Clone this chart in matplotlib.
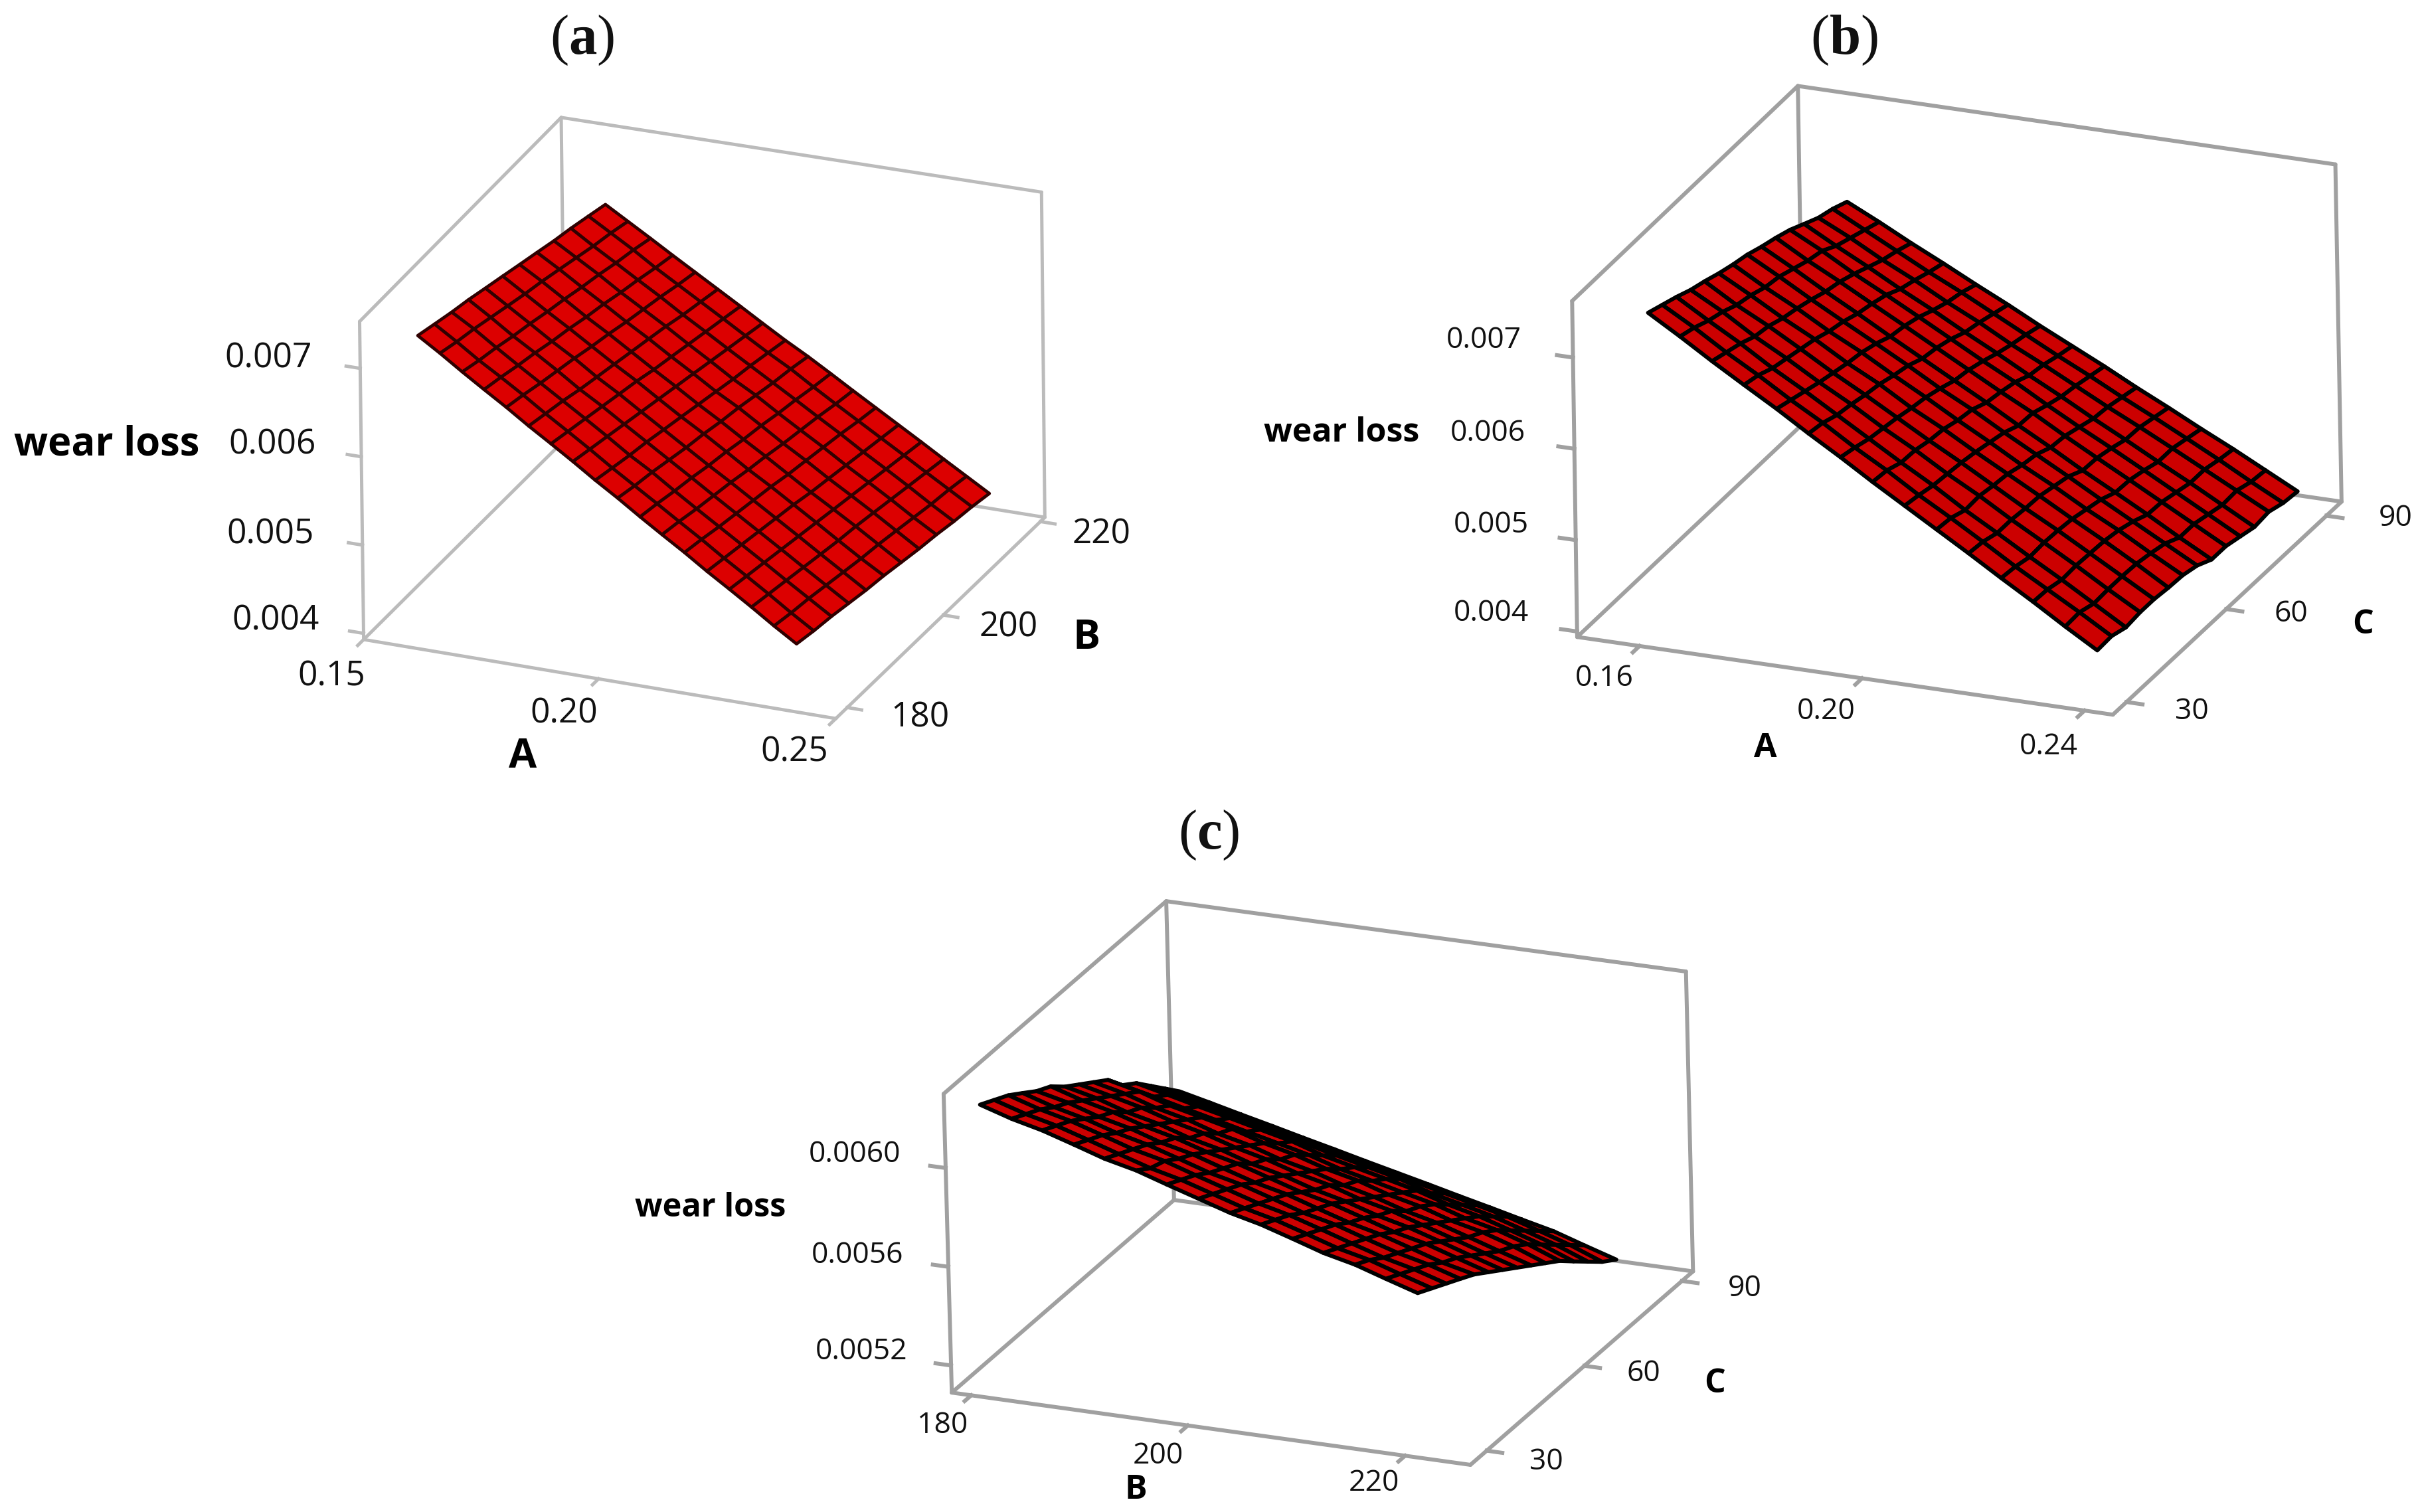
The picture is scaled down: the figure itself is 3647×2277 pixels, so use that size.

import numpy as np
import matplotlib
matplotlib.use('Agg')
import matplotlib.pyplot as plt

# ---------------- data (wear loss in units of 1e-5) ----------------
A_grid = [0.16, 0.1657, 0.1714, 0.1771, 0.1829, 0.1886, 0.1943, 0.20, 0.2057, 0.2114, 0.2171, 0.2229, 0.2286, 0.2343, 0.24]
A_grid_a = [0.16, 0.1647, 0.1694, 0.174, 0.1787, 0.1834, 0.1881, 0.1927, 0.1974, 0.2021, 0.2068, 0.2114, 0.2161, 0.2208, 0.2255, 0.2301, 0.2348, 0.2395]
B_grid_a = [180, 183.6, 187.3, 190.9, 194.5, 198.2, 201.8, 205.5, 209.1, 212.7, 216.4, 220]
B_grid = [180, 182.9, 185.7, 188.6, 191.4, 194.3, 197.1, 200, 202.9, 205.7, 208.6, 211.4, 214.3, 217.1, 220]
C_grid = [30, 34.3, 38.6, 42.9, 47.1, 51.4, 55.7, 60, 64.3, 68.6, 72.9, 77.1, 81.4, 85.7, 90]

wear_a = [
    [733, 727, 721, 716, 710, 704, 698, 692, 686, 681, 675, 669],
    [717, 711, 706, 700, 694, 688, 683, 677, 671, 665, 660, 654],
    [700, 694, 689, 683, 678, 672, 667, 661, 656, 650, 645, 639],
    [684, 679, 673, 668, 662, 657, 651, 646, 640, 635, 629, 624],
    [668, 663, 657, 652, 647, 641, 636, 630, 625, 620, 614, 609],
    [651, 646, 641, 635, 630, 625, 620, 615, 610, 604, 599, 594],
    [635, 630, 625, 620, 615, 610, 604, 599, 594, 589, 584, 579],
    [619, 614, 609, 604, 599, 594, 589, 584, 579, 574, 569, 564],
    [602, 597, 592, 588, 583, 578, 573, 568, 563, 559, 554, 549],
    [586, 581, 577, 572, 567, 563, 558, 554, 549, 544, 540, 535],
    [569, 565, 560, 556, 551, 547, 542, 538, 533, 529, 524, 520],
    [553, 549, 544, 540, 536, 531, 527, 522, 518, 514, 509, 505],
    [537, 533, 528, 524, 520, 516, 511, 507, 503, 499, 494, 490],
    [520, 516, 512, 508, 504, 500, 495, 491, 487, 483, 479, 475],
    [504, 500, 496, 492, 488, 484, 480, 476, 472, 468, 464, 460],
    [488, 484, 480, 476, 472, 468, 465, 461, 457, 453, 449, 445],
    [471, 467, 464, 460, 456, 452, 449, 445, 441, 437, 434, 430],
    [455, 451, 448, 444, 440, 437, 433, 429, 426, 422, 419, 415],
]
wear_b = [
    [745, 739, 733, 726, 721, 715, 710, 706, 700, 695, 689, 681, 673, 668, 661],
    [724, 719, 712, 707, 700, 696, 690, 687, 681, 675, 671, 662, 656, 650, 644],
    [702, 697, 692, 685, 682, 676, 672, 667, 661, 657, 651, 644, 637, 632, 626],
    [681, 677, 670, 666, 662, 658, 652, 648, 642, 638, 633, 625, 620, 614, 609],
    [660, 655, 650, 645, 641, 637, 634, 629, 622, 619, 614, 607, 601, 597, 591],
    [638, 635, 629, 626, 622, 619, 614, 610, 603, 600, 595, 588, 584, 579, 574],
    [617, 613, 608, 605, 602, 598, 595, 590, 584, 581, 576, 570, 565, 561, 556],
    [595, 593, 587, 586, 582, 580, 575, 572, 565, 562, 558, 551, 548, 543, 539],
    [574, 571, 567, 565, 563, 560, 556, 552, 545, 544, 538, 533, 530, 526, 522],
    [553, 551, 545, 546, 543, 541, 536, 533, 526, 524, 519, 514, 512, 508, 504],
    [532, 530, 525, 525, 523, 522, 518, 514, 506, 505, 501, 496, 495, 491, 487],
    [510, 508, 504, 505, 504, 502, 498, 494, 487, 486, 482, 477, 477, 473, 469],
    [489, 488, 484, 485, 484, 483, 480, 475, 468, 467, 463, 459, 459, 455, 452],
    [467, 468, 463, 464, 464, 463, 460, 456, 448, 448, 444, 440, 441, 436, 434],
    [446, 447, 442, 444, 444, 442, 441, 437, 429, 429, 425, 421, 423, 418, 416],
]
wear_c = [
    [621, 618, 615, 611, 607, 604, 599, 595, 591, 587, 580, 576, 570, 564, 558],
    [617, 614, 611, 607, 604, 600, 596, 592, 588, 584, 577, 573, 567, 561, 555],
    [614, 611, 608, 604, 600, 597, 592, 589, 584, 580, 574, 570, 564, 558, 552],
    [610, 607, 604, 600, 597, 593, 589, 585, 581, 577, 571, 567, 561, 555, 549],
    [606, 603, 600, 597, 593, 590, 585, 582, 577, 574, 568, 564, 558, 552, 546],
    [603, 599, 597, 593, 590, 586, 582, 578, 574, 570, 565, 561, 555, 549, 543],
    [599, 596, 593, 589, 586, 583, 578, 575, 570, 567, 562, 557, 552, 546, 540],
    [595, 592, 589, 586, 582, 579, 575, 571, 567, 563, 558, 554, 549, 543, 537],
    [591, 588, 585, 582, 579, 575, 571, 568, 563, 560, 555, 551, 546, 540, 534],
    [588, 585, 582, 578, 575, 572, 568, 564, 560, 556, 552, 548, 542, 537, 531],
    [584, 581, 578, 575, 571, 568, 564, 561, 556, 553, 549, 544, 539, 534, 528],
    [580, 577, 574, 571, 568, 564, 561, 557, 553, 549, 545, 541, 536, 531, 525],
    [577, 574, 570, 567, 564, 561, 557, 553, 549, 546, 542, 537, 532, 527, 522],
    [573, 570, 567, 564, 560, 557, 553, 549, 545, 542, 538, 533, 528, 523, 518],
    [569, 566, 563, 560, 557, 553, 549, 545, 541, 537, 533, 528, 523, 518, 514],
]

xticks_a = [0.15, 0.20, 0.25]; yticks_a = [180, 200, 220]; zticks_a = [0.004, 0.005, 0.006, 0.007]
xticks_b = [0.16, 0.20, 0.24]; yticks_b = [30, 60, 90];    zticks_b = [0.004, 0.005, 0.006, 0.007]
xticks_c = [180, 200, 220];    yticks_c = [30, 60, 90];    zticks_c = [0.0052, 0.0056, 0.0060]
xlabels_a = ['0.15', '0.20', '0.25']; ylabels_a = ['180', '200', '220']; zlabels_a = ['0.004', '0.005', '0.006', '0.007']
xlabels_b = ['0.16', '0.20', '0.24']; ylabels_b = ['30', '60', '90'];    zlabels_b = ['0.004', '0.005', '0.006', '0.007']
xlabels_c = ['180', '200', '220'];    ylabels_c = ['30', '60', '90'];    zlabels_c = ['0.0052', '0.0056', '0.0060']

# ---------------- layout (pixels of the 3648x2277 picture) ----------------
W, H = 3648, 2277
plt.rcParams['mathtext.fontset'] = 'custom'
plt.rcParams['mathtext.rm'] = 'Liberation Serif'
plt.rcParams['mathtext.bf'] = 'Liberation Serif:bold'
fig = plt.figure(figsize=(W / 100, H / 100), dpi=100, facecolor='white')

CUBE = [(0, 0, 0), (1, 0, 0), (1, 1, 0), (0, 1, 0), (0, 0, 1), (0, 1, 1), (1, 1, 1)]
EDGES = [((0, 0, 0), (1, 0, 0)), ((1, 0, 0), (1, 1, 0)), ((1, 1, 0), (0, 1, 0)), ((0, 1, 0), (0, 0, 0)),
         ((0, 0, 0), (0, 0, 1)), ((0, 0, 1), (0, 1, 1)), ((0, 1, 1), (0, 1, 0)),
         ((0, 1, 1), (1, 1, 1)), ((1, 1, 1), (1, 1, 0))]


def fit_homography(pixels):
    rows = []
    for (u, v, w), (px, py) in zip(CUBE, pixels):
        X = [u, v, w, 1]
        rows.append(X + [0] * 4 + [-px * c for c in X])
        rows.append([0] * 4 + X + [-py * c for c in X])
    P = np.linalg.svd(np.array(rows, float))[2][-1].reshape(3, 4)
    if P[2] @ np.array([.5, .5, .5, 1]) < 0:
        P = -P
    return P / (P[2] @ np.array([.5, .5, .5, 1]))


def panel(rect, corners, xlim, ylim, zlim, xg, yg, wear, face, edge, lw, frame, frame_lw,
          xt, yt, zt):
    ax = fig.add_axes(rect, projection='3d', computed_zorder=False)
    ax.set_proj_type('ortho')      # no depth clipping of the lines
    ax.set_axis_off()
    ax.patch.set_alpha(0)
    P = fit_homography(corners)
    D = np.array([[1 / (xlim[1] - xlim[0]), 0, 0, -xlim[0] / (xlim[1] - xlim[0])],
                  [0, 1 / (ylim[1] - ylim[0]), 0, -ylim[0] / (ylim[1] - ylim[0])],
                  [0, 0, 1 / (zlim[1] - zlim[0]), -zlim[0] / (zlim[1] - zlim[0])],
                  [0, 0, 0, 1]])
    F = np.array([[1, 0, 0], [0, -1, H], [0, 0, 1.0]])

    def get_proj():
        T = ax.transData.inverted().get_matrix()
        M3 = T @ F @ P @ D
        depth = np.array([-1, 1, -0.4, 0.0]) @ D
        return np.vstack([M3[0], M3[1], depth, M3[2]])
    ax.get_proj = get_proj

    def to_data(n):
        return [lim[0] + c * (lim[1] - lim[0]) for c, lim in zip(n, (xlim, ylim, zlim))]

    for a, b in EDGES:
        pa, pb = to_data(a), to_data(b)
        ax.plot([pa[0], pb[0]], [pa[1], pb[1]], [pa[2], pb[2]], color=frame, lw=frame_lw,
                clip_on=False, zorder=1, solid_capstyle='round')
    tick = 0.03
    dx = tick * (xlim[1] - xlim[0]); dy = tick * (ylim[1] - ylim[0])
    for v in xt:
        ax.plot([v, v], [ylim[0], ylim[0] - dy], [zlim[0], zlim[0]], color=frame, lw=frame_lw, clip_on=False, zorder=1)
    for v in yt:
        ax.plot([xlim[1], xlim[1] + dx], [v, v], [zlim[0], zlim[0]], color=frame, lw=frame_lw, clip_on=False, zorder=1)
    for v in zt:
        ax.plot([xlim[0], xlim[0] - dx], [ylim[0], ylim[0]], [v, v], color=frame, lw=frame_lw, clip_on=False, zorder=1)

    XX, YY = np.meshgrid(xg, yg, indexing='ij')
    ZZ = np.array(wear, float) * 1e-5
    s = ax.plot_surface(XX, YY, ZZ, rstride=1, cstride=1, color=face, edgecolor=edge,
                        linewidth=lw, shade=False, zorder=2, antialiased=True)
    s.set_clip_on(False)
    return ax


def zoom_a(p): return (p[0] * 1800 / 1568, p[1] * 1200 / 1568)
def zoom_b(p): return (1850 + p[0] * 1798 / 1568, p[1] * 1200 / 1568)
def zoom_c(p): return (900 + p[0] * 1800 / 1568, 1200 + p[1] * 1077 / 1568)


def label(zoom, p, s, size, bold=False, family='Open Sans'):
    x, y = zoom(p)
    fig.text(x / W, 1 - y / H, s, ha='center', va='center', fontsize=size, color='#111111' if not bold else 'black',
             family=family, fontweight='bold' if bold else 'normal')


corners_a = [zoom_a(p) for p in [(480, 1260), (1095, 1415), (1372, 1015), (738, 865), (470, 630), (738, 232), (1366, 380)]]
corners_b = [zoom_b(p) for p in [(458, 1247), (1162, 1410), (1462, 982), (753, 841), (450, 595), (750, 165), (1452, 325)]]
corners_c = [zoom_c(p) for p in [(465, 1305), (1145, 1465), (1437, 1040), (755, 885), (453, 652), (747, 228), (1427, 383)]]

panel([0.0, 0.47, 0.47, 0.53], corners_a, (.15, .25), (177.6, 220.9), (.00393, .00753), A_grid_a, B_grid_a, wear_a,
      '#DC0000', '#300000', 3.4, '#BBBBBB', 3.6, xticks_a, yticks_a, zticks_a)
panel([0.5, 0.47, 0.5, 0.53], corners_b, (.1488, .2451), (25.9, 94.5), (.00394, .00762), A_grid, C_grid, wear_b,
      '#CC0000', 'black', 4.3, '#A0A0A0', 4.3, xticks_b, yticks_b, zticks_b)
panel([0.25, 0.0, 0.5, 0.47], corners_c, (178.2, 226), (25, 93.4), (.00509, .0063), B_grid, C_grid, wear_c,
      '#CC0000', 'black', 4.3, '#A0A0A0', 4.3, xticks_c, yticks_c, zticks_c)

# texts, panel a
for p, s in zip([(435, 1332), (740, 1405), (1042, 1480)], xlabels_a): label(zoom_a, p, s, 37)
for p, s in zip([(1207, 1413), (1323, 1235), (1445, 1052)], ylabels_a): label(zoom_a, p, s, 37)
for p, s in zip([(362, 1222), (355, 1052), (357, 875), (352, 705)], zlabels_a): label(zoom_a, p, s, 37)
label(zoom_a, (140, 875), 'wear loss', 43, True)
label(zoom_a, (686, 1490), 'A', 44, True)
label(zoom_a, (1425, 1257), 'B', 44, True)
# texts, panel b
for p, s in zip([(493, 1335), (785, 1400), (1077, 1470)], xlabels_b): label(zoom_b, p, s, 32)
for p, s in zip([(1265, 1400), (1395, 1208), (1532, 1020)], ylabels_b): label(zoom_b, p, s, 32)
for p, s in zip([(345, 1207), (345, 1033), (340, 853), (335, 670)], zlabels_b): label(zoom_b, p, s, 32)
label(zoom_b, (148, 852), 'wear loss', 36, True)
label(zoom_b, (705, 1473), 'A', 36, True)
label(zoom_b, (1490, 1230), 'C', 36, True)
# texts, panel c
for p, s in zip([(452, 1378), (735, 1445), (1018, 1505)], xlabels_c): label(zoom_c, p, s, 32)
for p, s in zip([(1244, 1458), (1372, 1265), (1505, 1078)], ylabels_c): label(zoom_c, p, s, 32)
for p, s in zip([(346, 1217), (341, 1005), (337, 785)], zlabels_c): label(zoom_c, p, s, 32)
label(zoom_c, (148, 902), 'wear loss', 35, True)
label(zoom_c, (706, 1520), 'B', 36, True)
label(zoom_c, (1465, 1287), 'C', 36, True)
# panel letters
label(zoom_a, (764, 80), r'($\mathbf{a}$)', 61, family='Liberation Serif')
label(zoom_b, (808, 80), r'($\mathbf{b}$)', 61, family='Liberation Serif')
label(zoom_c, (802, 85), r'($\mathbf{c}$)', 61, family='Liberation Serif')

fig.savefig('out.png', dpi=100, facecolor='white')
